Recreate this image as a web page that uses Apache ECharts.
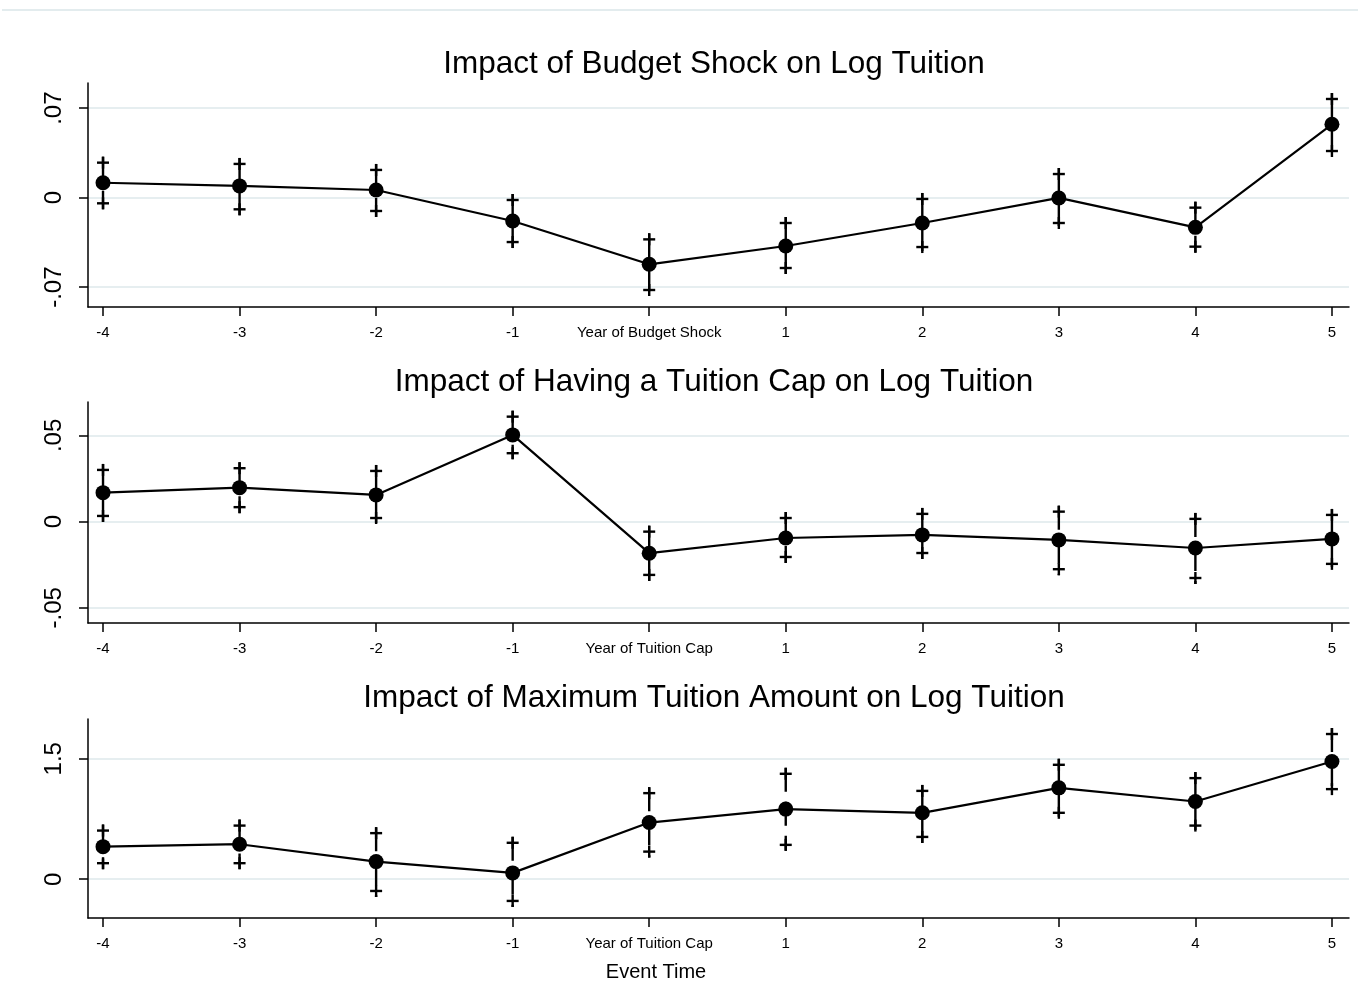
<!DOCTYPE html>
<html>
<head>
<meta charset="utf-8">
<script src="https://cdn.jsdelivr.net/npm/echarts@6/dist/echarts.min.js"></script>
<style>
  html, body { margin: 0; padding: 0; background: #ffffff; }
  #chart { width: 1358px; height: 1003px; }
</style>
</head>
<body>
<div id="chart"></div>
<script>
// Event time relative to the policy year
const eventTime = [-4, -3, -2, -1, 0, 1, 2, 3, 4, 5];

// Panel 1: budget shock
const budgetEst = [0.0117, 0.0092, 0.0060, -0.0182, -0.0521, -0.0378, -0.0198, -0.0002, -0.0232, 0.0574];
const budgetHi  = [0.0274, 0.0264, 0.0217, -0.0018, -0.0326, -0.0198, -0.0010, 0.0185, -0.0078, 0.0772];
const budgetLo  = [-0.0044, -0.0091, -0.0104, -0.0347, -0.0722, -0.0550, -0.0386, -0.0198, -0.0383, 0.0365];

// Panel 2: having a tuition cap
const capEst = [0.0168, 0.0197, 0.0155, 0.0503, -0.0183, -0.0095, -0.0077, -0.0106, -0.0153, -0.0100];
const capHi  = [0.0300, 0.0310, 0.0294, 0.0609, -0.0058, 0.0021, 0.0045, 0.0058, 0.0016, 0.0039];
const capLo  = [0.0033, 0.0084, 0.0021, 0.0397, -0.0309, -0.0205, -0.0182, -0.0276, -0.0327, -0.0245];

// Panel 3: maximum tuition amount
const maxEst = [0.406, 0.436, 0.220, 0.079, 0.706, 0.873, 0.827, 1.138, 0.968, 1.466];
const maxHi  = [0.606, 0.668, 0.574, 0.454, 1.072, 1.313, 1.100, 1.425, 1.259, 1.808];
const maxLo  = [0.200, 0.200, -0.146, -0.270, 0.344, 0.428, 0.527, 0.827, 0.668, 1.122];

// Titles, axis ticks and tick labels
const titles = [
  'Impact of Budget Shock on Log Tuition',
  'Impact of Having a Tuition Cap on Log Tuition',
  'Impact of Maximum Tuition Amount on Log Tuition'
];
const yTicks = [[-0.07, 0, 0.07], [-0.05, 0, 0.05], [0, 1.5]];
const yTickLabels = [['-.07', '0', '.07'], ['-.05', '0', '.05'], ['0', '1.5']];
const zeroLabels = ['Year of Budget Shock', 'Year of Tuition Cap', 'Year of Tuition Cap'];
const xTitle = 'Event Time';

const panels = [
  { est: budgetEst, hi: budgetHi, lo: budgetLo, top: 83, height: 224, yMin: -0.0855, yMax: 0.0897, titleY: 64 },
  { est: capEst, hi: capHi, lo: capLo, top: 402, height: 221, yMin: -0.0588, yMax: 0.0694, titleY: 382 },
  { est: maxEst, hi: maxHi, lo: maxLo, top: 719, height: 199, yMin: -0.4825, yMax: 1.995, titleY: 698 }
];

const FONT = '"Liberation Sans", Arial, Helvetica, sans-serif';

// Confidence interval: dashed stem with a plus-shaped cap at each bound
function renderInterval(params, api) {
  const x = api.value(0);
  const top = api.coord([x, api.value(2)]);
  const bot = api.coord([x, api.value(1)]);
  const h = 6;
  const st = { stroke: '#000', lineWidth: 2.4, fill: null };
  const plus = (p) => [
    { type: 'line', shape: { x1: p[0] - h, y1: p[1], x2: p[0] + h, y2: p[1] }, style: st },
    { type: 'line', shape: { x1: p[0], y1: p[1] - h, x2: p[0], y2: p[1] + h }, style: st }
  ];
  return {
    type: 'group',
    children: [
      { type: 'line', shape: { x1: top[0], y1: top[1] - h, x2: bot[0], y2: bot[1] + h },
        style: Object.assign({}, st, { lineDash: [24, 10] }) }
    ].concat(plus(top), plus(bot))
  };
}

const grid = [], xAxis = [], yAxis = [], series = [];
const graphic = [
  { type: 'line', shape: { x1: 2, y1: 10, x2: 1358, y2: 10 }, style: { stroke: '#e3ecee', lineWidth: 2 } },
  { type: 'text', x: 656, y: 972,
    style: { text: xTitle, fontFamily: FONT, fontSize: 20, fill: '#000', align: 'center', verticalAlign: 'middle' } }
];

panels.forEach((p, i) => {
  grid.push({ left: 88, right: 9, top: p.top, height: p.height });
  graphic.push({
    type: 'text', x: 714, y: p.titleY,
    style: { text: titles[i], fontFamily: FONT, fontSize: 31.5, fill: '#000', align: 'center', verticalAlign: 'middle' }
  });
  xAxis.push({
    type: 'value', gridIndex: i, min: -4.11, max: 5.125,
    axisLine: { show: true, onZero: false, lineStyle: { color: '#000', width: 1.5 } },
    axisTick: { show: true, length: 9, customValues: eventTime, lineStyle: { color: '#000', width: 1.5 } },
    axisLabel: {
      customValues: eventTime, margin: 18, color: '#000', fontFamily: FONT, fontSize: 15,
      formatter: (v) => (v === 0 ? zeroLabels[i] : String(v))
    },
    splitLine: { show: false }
  });
  yAxis.push({
    type: 'value', gridIndex: i, min: p.yMin, max: p.yMax,
    axisLine: { show: true, onZero: false, lineStyle: { color: '#000', width: 1.5 } },
    axisTick: { show: true, length: 9, customValues: yTicks[i], lineStyle: { color: '#000', width: 1.5 } },
    axisLabel: {
      customValues: yTicks[i], rotate: 90, margin: 22, color: '#000', fontFamily: FONT, fontSize: 24,
      formatter: (v) => {
        const k = yTicks[i].findIndex((t) => Math.abs(t - v) < 1e-9);
        return k >= 0 ? yTickLabels[i][k] : '';
      }
    },
    splitLine: { show: true, lineStyle: { color: '#e6eef0', width: 2 } }
  });
  series.push({
    type: 'custom', xAxisIndex: i, yAxisIndex: i, renderItem: renderInterval,
    encode: { x: 0, y: [1, 2] }, z: 2, silent: true,
    data: eventTime.map((t, k) => [t, p.lo[k], p.hi[k]])
  });
  series.push({
    type: 'line', xAxisIndex: i, yAxisIndex: i, z: 3, silent: true,
    symbol: 'circle', symbolSize: 15,
    itemStyle: { color: '#000' }, lineStyle: { color: '#000', width: 2.2 },
    data: eventTime.map((t, k) => [t, p.est[k]])
  });
});

const chart = echarts.init(document.getElementById('chart'), null, { renderer: 'canvas' });
chart.setOption({
  backgroundColor: '#ffffff',
  animation: false,
  grid, xAxis, yAxis, series, graphic
});
</script>
</body>
</html>
